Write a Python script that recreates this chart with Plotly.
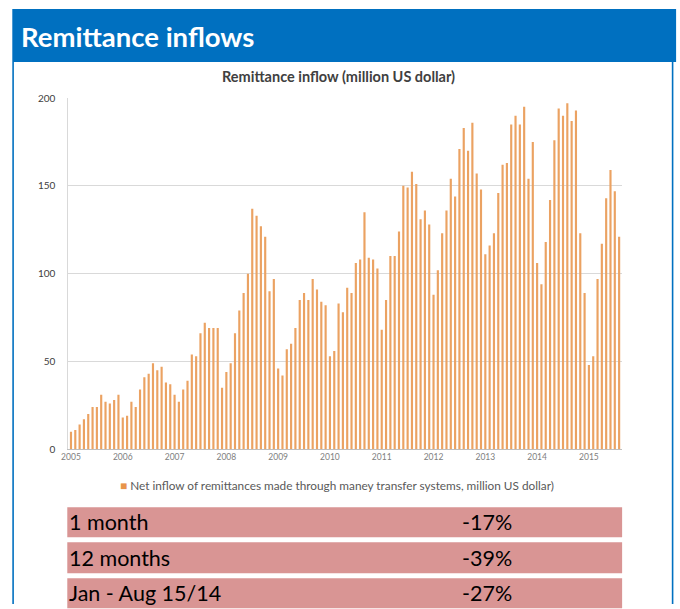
import plotly.graph_objects as go

W, H = 680, 609

years = ["2005", "2006", "2007", "2008", "2009", "2010", "2011", "2012", "2013", "2014", "2015"]
months_per_year = [12, 12, 12, 12, 12, 12, 12, 12, 12, 12, 8]

v2005 = [10, 11, 14, 17, 20, 24, 24, 31, 27, 26, 28, 31]
v2006 = [18, 19, 27, 24, 34, 41, 43, 49, 45, 47, 38, 37]
v2007 = [31, 27, 34, 39, 54, 53, 66, 72, 69, 69, 69, 35]
v2008 = [44, 49, 66, 79, 89, 100, 137, 133, 127, 121, 90, 97]
v2009 = [46, 42, 57, 60, 69, 85, 89, 85, 97, 91, 84, 82]
v2010 = [53, 56, 83, 78, 92, 89, 106, 108, 135, 109, 108, 103]
v2011 = [68, 85, 110, 110, 124, 150, 149, 158, 151, 131, 136, 128]
v2012 = [88, 102, 123, 136, 154, 144, 171, 183, 170, 186, 157, 148]
v2013 = [111, 116, 123, 146, 162, 163, 185, 190, 185, 195, 154, 175]
v2014 = [106, 94, 118, 142, 176, 194, 190, 197, 187, 193, 123, 89]
v2015 = [48, 53, 97, 117, 143, 159, 147, 121]

yearly = [v2005, v2006, v2007, v2008, v2009, v2010, v2011, v2012, v2013, v2014, v2015]

table_labels = ["1 month", "12 months", "Jan - Aug 15/14"]
table_values = ["-17%", "-39%", "-27%"]

header_title = "Remittance inflows"
chart_title = "Remittance inflow (million US dollar)"
legend_text = "Net inflow of remittances made through maney transfer systems, million US dollar)"

# categories: one per month
cats, vals, tickvals = [], [], []
for y, n, vs in zip(years, months_per_year, yearly):
    for m in range(n):
        c = f"{y}-{m+1:02d}"
        cats.append(c)
        if m == 0:
            tickvals.append(c)
    vals.extend(vs)

# layout helpers: reference pixel -> paper fraction (with small calibration)
KX, AX = 0.990, 7.7
KY, AY = 0.980, 5.94


def sx(p):
    return (p - AX) / KX


def sy(p):
    return (p - AY) / KY


def px(p):
    return sx(p) / W


def py(p):
    return 1 - sy(p) / H


fig = go.Figure()
fig.add_trace(go.Bar(
    x=cats, y=vals, marker=dict(color="#EBA262", line=dict(width=0)),
    name=legend_text, showlegend=False,
))

left, right, top, bottom = 69, 623, 97, 448
n = len(cats)
b0, b1 = sx(71.7), sx(620)
sp = (b1 - b0) / (n - 1)
r0 = -(b0 - sx(left)) / sp
r1 = (n - 1) + (sx(right) - b1) / sp

fig.update_layout(
    width=W, height=H,
    margin=dict(l=0, r=0, t=0, b=0),
    paper_bgcolor="white", plot_bgcolor="white",
    bargap=0.5,
    font=dict(family="Lato, Open Sans, sans-serif"),
    xaxis=dict(
        domain=[px(left), px(right)], type="category", range=[r0, r1],
        tickvals=tickvals, ticktext=years, tickangle=0,
        tickfont=dict(size=8.5, color="#808080"),
        showgrid=False, showline=True, linecolor="#BFBFBF", linewidth=1,
        ticks="", fixedrange=True,
    ),
    yaxis=dict(
        domain=[py(bottom), py(top)], range=[0, 200],
        tickvals=[0, 50, 100, 150, 200],
        tickfont=dict(size=10, color="#404040"),
        showgrid=True, gridcolor="#D9D9D9", gridwidth=1,
        showline=True, linecolor="#D9D9D9", zeroline=False,
        ticklabelstandoff=10, fixedrange=True,
    ),
)

shapes = []
# header bar
shapes.append(dict(type="rect", xref="paper", yref="paper",
                   x0=px(13), x1=px(677), y0=py(61), y1=py(8),
                   fillcolor="#0070C0", line=dict(width=0), layer="below"))
# side borders
for xb in (13.8, 673.5):
    shapes.append(dict(type="line", xref="paper", yref="paper",
                       x0=px(xb), x1=px(xb), y0=py(61), y1=0,
                       line=dict(color="#0070C0", width=1.6)))
# table rows
row_bounds = [(506, 536), (541, 572), (577, 607)]
for (ya, yb) in row_bounds:
    shapes.append(dict(type="rect", xref="paper", yref="paper",
                       x0=px(68), x1=px(623), y0=py(yb), y1=py(ya),
                       fillcolor="#D99594", line=dict(width=0), layer="below"))
fig.update_layout(shapes=shapes)

ann = []
ann.append(dict(text=f"<b>{header_title}</b>", x=px(20), y=py(35), xref="paper", yref="paper",
                xanchor="left", yanchor="middle", showarrow=False,
                font=dict(size=27.5, color="white", family="Lato, sans-serif")))
ann.append(dict(text=f"<b>{chart_title}</b>", x=px(339), y=py(75), xref="paper", yref="paper",
                xanchor="center", yanchor="middle", showarrow=False,
                font=dict(size=14.5, color="#404040")))
ann.append(dict(text=f"<span style='color:#E8944A'>■</span> {legend_text}",
                x=px(119), y=py(484), xref="paper", yref="paper",
                xanchor="left", yanchor="middle", showarrow=False,
                font=dict(size=11.8, color="#595959")))
for (ya, yb), lab, val in zip(row_bounds, table_labels, table_values):
    yc = (ya + yb) / 2
    ann.append(dict(text=lab, x=px(68), y=py(yc), xref="paper", yref="paper",
                    xanchor="left", yanchor="middle", showarrow=False,
                    font=dict(size=21.5, color="black")))
    ann.append(dict(text=val, x=px(461), y=py(yc), xref="paper", yref="paper",
                    xanchor="left", yanchor="middle", showarrow=False,
                    font=dict(size=21.5, color="black")))
fig.update_layout(annotations=ann)

fig.write_html("out.html", config={"displayModeBar": False, "staticPlot": True},
               post_script="document.body.style.margin='0';document.body.style.overflow='hidden';")
